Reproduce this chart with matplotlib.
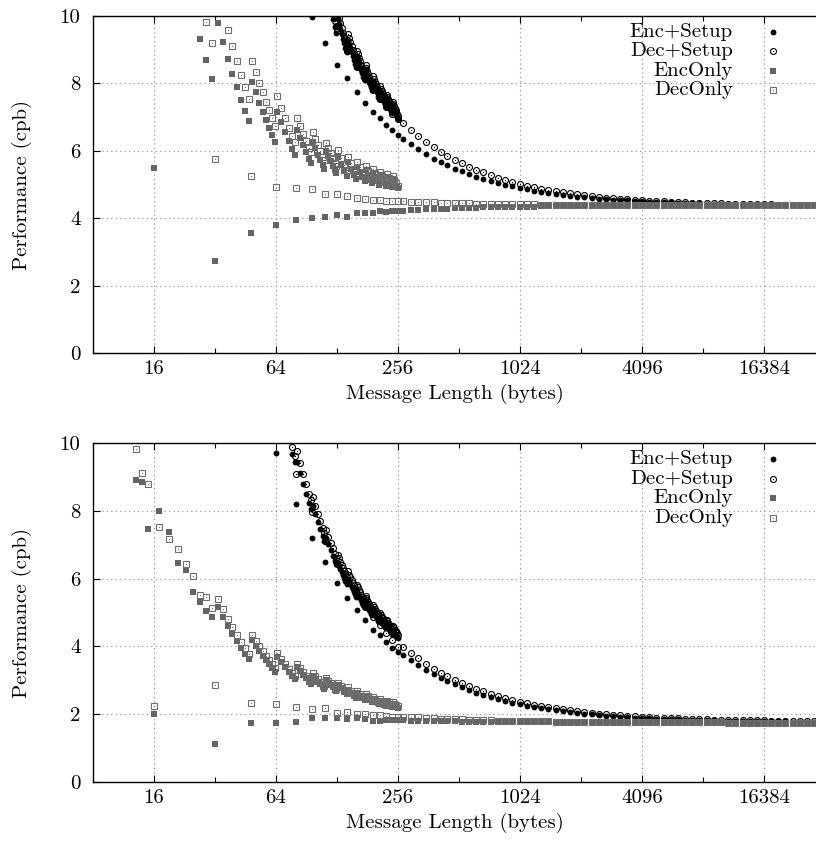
import numpy as np
import matplotlib
matplotlib.use('Agg')
import matplotlib.pyplot as plt
from matplotlib.ticker import FixedLocator, FixedFormatter, NullFormatter

plt.rcParams['font.family'] = 'cmr10'
plt.rcParams['mathtext.fontset'] = 'cm'
plt.rcParams['axes.formatter.use_mathtext'] = True

nan = float('nan')

# message lengths (bytes)
mult_len = [16, 32, 48, 64, 80, 96, 112, 128, 144, 160, 176, 192, 208, 224, 240, 256]
low_len = [13, 14, 15]
odd_len = [17, 19, 21, 23, 25, 27, 29, 31,
           33, 35, 37, 39, 41, 43, 45, 47,
           49, 51, 53, 55, 57, 59, 61, 63,
           65, 68, 71, 74, 77, 79,
           81, 84, 87, 90, 93, 95,
           97, 100, 103, 106, 109, 111,
           113, 116, 119, 122, 125, 127,
           129, 134, 139, 143, 145, 150, 155, 159,
           161, 166, 171, 175, 177, 182, 187, 191,
           193, 198, 203, 207, 209, 214, 219, 223,
           225, 230, 235, 239, 241, 246, 251, 255]
setup_mid_len = [65, 68, 71, 74, 77, 79,
                 81, 84, 87, 90, 93, 95,
                 97, 100, 103, 106, 109, 111,
                 113, 116, 119, 122, 125, 127]
setup_hi_len = [129, 131, 133, 135, 137, 139, 141, 143,
                145, 147, 149, 151, 153, 155, 157, 159,
                161, 163, 165, 167, 169, 171, 173, 175,
                177, 179, 181, 183, 185, 187, 189, 191,
                193, 195, 197, 199, 201, 203, 205, 207,
                209, 211, 213, 215, 217, 219, 221, 223,
                225, 227, 229, 231, 233, 235, 237, 239,
                241, 243, 245, 247, 249, 251, 253, 255]
tail_len = [272, 296, 320, 352, 384, 416, 448, 488, 528, 576,
            624, 672, 736, 800, 864, 936, 1024, 1104, 1200, 1304,
            1416, 1536, 1664, 1808, 1968, 2128, 2312, 2512, 2720, 2952,
            3200, 3472, 3776, 4096, 4448, 4824, 5232, 5680, 6160, 6688,
            7256, 7872, 8544, 9264, 10048, 10912, 11840, 12848, 13936, 15120,
            16384, 17776, 19296, 20928, 22704, 24640, 26736, 29008, 31472]

# ---------------- top panel (cpb) ----------------
top_encsetup_mult = [nan, nan, nan, nan, nan, 9.98, 9.20, 8.55, 8.16, 7.74, 7.42, 7.15, 6.97, 6.77, 6.62, 6.47]
top_decsetup_mult = [nan, nan, nan, nan, nan, nan, nan, 9.55, 8.97, 8.50, 8.12, 7.80, 7.53, 7.30, 7.10, 6.93]
top_enconly_mult = [5.49, 2.73, 3.56, 3.80, 3.95, 4.00, 4.04, 4.09, 4.04, 4.15, 4.15, 4.15, 4.21, 4.18, 4.21, 4.21]
top_deconly_mult = [nan, 5.76, 5.25, 4.93, 4.90, 4.87, 4.72, 4.72, 4.66, 4.60, 4.58, 4.55, 4.55, 4.52, 4.52, 4.51]

top_encsetup_mid = [nan, nan, nan, nan, nan, nan,
                    nan, nan, nan, nan, nan, nan,
                    nan, nan, nan, nan, nan, nan,
                    10.69, 10.41, 10.15, 9.90, 9.66, 9.51]
top_decsetup_mid = [nan, nan, nan, nan, nan, nan,
                    nan, nan, nan, nan, nan, nan,
                    nan, nan, nan, nan, nan, nan,
                    10.91, 10.63, 10.36, 10.11, 9.86, 9.71]
top_encsetup_hi = [9.91, 9.76, 9.61, 9.47, 9.33, 9.19, 9.06, 8.94,
                   9.30, 9.18, 9.05, 8.93, 8.82, 8.70, 8.59, 8.48,
                   8.81, 8.71, 8.60, 8.50, 8.40, 8.30, 8.20, 8.11,
                   8.42, 8.32, 8.23, 8.14, 8.05, 7.97, 7.88, 7.80,
                   8.08, 8.00, 7.92, 7.84, 7.76, 7.69, 7.61, 7.54,
                   7.80, 7.73, 7.65, 7.58, 7.51, 7.44, 7.38, 7.31,
                   7.56, 7.49, 7.43, 7.36, 7.30, 7.24, 7.18, 7.12,
                   7.35, 7.29, 7.23, 7.17, 7.11, 7.06, 7.00, 6.95]
top_decsetup_hi = [10.10, 9.95, 9.80, 9.65, 9.51, 9.37, 9.24, 9.11,
                   9.48, 9.35, 9.22, 9.10, 8.98, 8.87, 8.75, 8.64,
                   8.97, 8.86, 8.75, 8.65, 8.54, 8.44, 8.35, 8.25,
                   8.56, 8.46, 8.37, 8.28, 8.19, 8.10, 8.02, 7.93,
                   8.21, 8.13, 8.05, 7.97, 7.89, 7.81, 7.73, 7.66,
                   7.92, 7.84, 7.77, 7.70, 7.63, 7.56, 7.49, 7.42,
                   7.67, 7.60, 7.54, 7.47, 7.41, 7.35, 7.28, 7.22,
                   7.45, 7.39, 7.33, 7.27, 7.21, 7.16, 7.10, 7.04]
top_enconly_odd = [14.82, 13.26, 12.00, 10.96, 10.08, 9.33, 8.69, 8.13,
                   9.79, 9.23, 8.73, 8.28, 7.88, 7.51, 7.18, 6.87,
                   8.04, 7.73, 7.43, 7.16, 6.91, 6.68, 6.46, 6.25,
                   7.15, 6.84, 6.55, 6.28, 6.04, 5.89,
                   6.62, 6.38, 6.16, 5.96, 5.76, 5.64,
                   6.26, 6.07, 5.89, 5.73, 5.57, 5.47,
                   6.00, 5.84, 5.70, 5.56, 5.42, 5.34,
                   5.81, 5.59, 5.39, 5.24, 5.66, 5.47, 5.29, 5.16,
                   5.53, 5.37, 5.21, 5.09, 5.44, 5.29, 5.14, 5.04,
                   5.35, 5.22, 5.09, 4.99, 5.28, 5.16, 5.04, 4.95,
                   5.22, 5.11, 5.00, 4.92, 5.17, 5.07, 4.96, 4.89]
top_deconly_odd = [16.76, 15.00, 13.57, 12.39, 11.40, 10.56, 9.83, 9.19,
                   10.76, 10.14, 9.59, 9.10, 8.66, 8.26, 7.89, 7.55,
                   8.67, 8.33, 8.02, 7.73, 7.46, 7.20, 6.97, 6.75,
                   7.62, 7.28, 6.97, 6.69, 6.43, 6.27,
                   6.98, 6.73, 6.49, 6.28, 6.08, 5.95,
                   6.55, 6.35, 6.17, 5.99, 5.83, 5.72,
                   6.24, 6.08, 5.92, 5.78, 5.64, 5.55,
                   6.01, 5.78, 5.58, 5.42, 5.83, 5.63, 5.45, 5.31,
                   5.68, 5.51, 5.35, 5.23, 5.56, 5.41, 5.27, 5.16,
                   5.47, 5.33, 5.20, 5.10, 5.38, 5.26, 5.14, 5.04,
                   5.31, 5.20, 5.09, 5.00, 5.25, 5.14, 5.04, 4.96]

top_encsetup_tail = [6.35, 6.19, 6.05, 5.90, 5.77, 5.66, 5.57, 5.47, 5.39, 5.30,
                     5.23, 5.17, 5.10, 5.04, 4.99, 4.95, 4.90, 4.86, 4.82, 4.78,
                     4.75, 4.72, 4.69, 4.67, 4.64, 4.62, 4.60, 4.58, 4.57, 4.55,
                     4.54, 4.53, 4.51, 4.50, 4.49, 4.48, 4.47, 4.47, 4.46, 4.45,
                     4.44, 4.44, 4.43, 4.43, 4.42, 4.42, 4.42, 4.41, 4.41, 4.41,
                     4.40, 4.40, 4.40, 4.40, 4.39, 4.39, 4.39, 4.39, 4.39]
top_decsetup_tail = [6.82, 6.62, 6.45, 6.26, 6.10, 5.97, 5.86, 5.73, 5.63, 5.53,
                     5.44, 5.36, 5.27, 5.20, 5.14, 5.08, 5.02, 4.97, 4.93, 4.88,
                     4.84, 4.80, 4.77, 4.74, 4.71, 4.68, 4.66, 4.64, 4.61, 4.60,
                     4.58, 4.56, 4.55, 4.53, 4.52, 4.51, 4.50, 4.49, 4.48, 4.47,
                     4.46, 4.45, 4.45, 4.44, 4.44, 4.43, 4.43, 4.42, 4.42, 4.41,
                     4.41, 4.41, 4.40, 4.40, 4.40, 4.40, 4.39, 4.39, 4.39]
top_enconly_tail = [4.22, 4.23, 4.24, 4.26, 4.27, 4.28, 4.28, 4.29, 4.30, 4.30,
                    4.31, 4.32, 4.32, 4.33, 4.33, 4.33, 4.34, 4.34, 4.34, 4.35,
                    4.35, 4.35, 4.35, 4.36, 4.36, 4.36, 4.36, 4.36, 4.36, 4.37,
                    4.37, 4.37, 4.37, 4.37, 4.37, 4.37, 4.37, 4.38, 4.38, 4.38,
                    4.38, 4.38, 4.38, 4.38, 4.38, 4.38, 4.38, 4.38, 4.38, 4.38,
                    4.38, 4.38, 4.38, 4.38, 4.38, 4.38, 4.38, 4.38, 4.38]
top_deconly_tail = [4.50, 4.49, 4.48, 4.47, 4.47, 4.46, 4.45, 4.45, 4.44, 4.44,
                    4.43, 4.43, 4.42, 4.42, 4.42, 4.41, 4.41, 4.41, 4.41, 4.40,
                    4.40, 4.40, 4.40, 4.40, 4.39, 4.39, 4.39, 4.39, 4.39, 4.39,
                    4.39, 4.39, 4.39, 4.39, 4.39, 4.39, 4.39, 4.38, 4.38, 4.38,
                    4.38, 4.38, 4.38, 4.38, 4.38, 4.38, 4.38, 4.38, 4.38, 4.38,
                    4.38, 4.38, 4.38, 4.38, 4.38, 4.38, 4.38, 4.38, 4.38]

# ---------------- bottom panel (cpb) ----------------
bot_encsetup_mult = [nan, nan, nan, 9.70, 8.20, 7.20, 6.49, 5.87, 5.43, 5.07, 4.78, 4.48, 4.34, 4.13, 3.95, 3.83]
bot_decsetup_mult = [nan, nan, nan, nan, 9.10, 7.96, 7.10, 6.43, 5.90, 5.50, 5.15, 4.87, 4.62, 4.40, 4.18, 3.98]
bot_enconly_mult = [2.00, 1.12, 1.74, 1.74, 1.77, 1.88, 1.88, 1.88, 1.86, 1.88, 1.86, 1.80, 1.81, 1.83, 1.83, 1.83]
bot_deconly_mult = [2.24, 2.86, 2.33, 2.30, 2.21, 2.15, 2.18, 2.04, 2.07, 2.01, 2.01, 1.98, 1.98, 1.95, 1.93, 1.93]

bot_enconly_low = [8.90, 8.85, 7.46]
bot_deconly_low = [9.82, 9.11, 8.79]

bot_encsetup_mid = [11.46, 10.96, 10.49, 10.07, 9.68, 9.43,
                    9.44, 9.11, 8.79, 8.50, 8.23, 8.05,
                    8.14, 7.90, 7.67, 7.45, 7.25, 7.12,
                    7.21, 7.03, 6.85, 6.68, 6.52, 6.42]
bot_decsetup_mid = [11.69, 11.18, 10.70, 10.27, 9.87, 9.62,
                    9.75, 9.40, 9.08, 8.78, 8.49, 8.32,
                    8.40, 8.15, 7.91, 7.69, 7.48, 7.34,
                    7.43, 7.24, 7.06, 6.89, 6.72, 6.61]
bot_encsetup_hi = [6.47, 6.37, 6.28, 6.19, 6.10, 6.01, 5.92, 5.84,
                   6.00, 5.92, 5.84, 5.76, 5.69, 5.61, 5.54, 5.47,
                   5.62, 5.55, 5.49, 5.42, 5.36, 5.29, 5.23, 5.17,
                   5.31, 5.25, 5.19, 5.14, 5.08, 5.03, 4.97, 4.92,
                   5.05, 5.00, 4.95, 4.90, 4.85, 4.80, 4.76, 4.71,
                   4.83, 4.79, 4.74, 4.70, 4.65, 4.61, 4.57, 4.53,
                   4.64, 4.60, 4.56, 4.52, 4.49, 4.45, 4.41, 4.37,
                   4.48, 4.44, 4.41, 4.37, 4.34, 4.30, 4.27, 4.24]
bot_decsetup_hi = [6.71, 6.60, 6.50, 6.41, 6.31, 6.22, 6.14, 6.05,
                   6.21, 6.12, 6.04, 5.96, 5.88, 5.81, 5.73, 5.66,
                   5.81, 5.74, 5.67, 5.60, 5.53, 5.47, 5.41, 5.34,
                   5.48, 5.42, 5.36, 5.30, 5.24, 5.19, 5.13, 5.08,
                   5.21, 5.15, 5.10, 5.05, 5.00, 4.95, 4.90, 4.86,
                   4.98, 4.93, 4.88, 4.84, 4.79, 4.75, 4.71, 4.66,
                   4.78, 4.74, 4.69, 4.65, 4.61, 4.57, 4.54, 4.50,
                   4.61, 4.57, 4.53, 4.49, 4.46, 4.42, 4.39, 4.35]
bot_enconly_odd = [8.00, 7.37, 6.46, 6.25, 5.60, 5.31, 5.05, 4.87,
                   5.15, 4.86, 4.59, 4.36, 4.15, 3.95, 3.78, 3.62,
                   4.18, 4.02, 3.87, 3.73, 3.60, 3.47, 3.36, 3.25,
                   3.69, 3.53, 3.38, 3.24, 3.12, 3.04,
                   3.40, 3.27, 3.16, 3.06, 2.96, 2.89,
                   3.14, 3.05, 2.96, 2.88, 2.80, 2.75,
                   3.01, 2.93, 2.86, 2.79, 2.72, 2.68,
                   2.87, 2.76, 2.66, 2.59, 2.72, 2.63, 2.55, 2.48,
                   2.63, 2.55, 2.47, 2.42, 2.54, 2.47, 2.41, 2.36,
                   2.46, 2.40, 2.34, 2.29, 2.39, 2.34, 2.28, 2.24,
                   2.35, 2.30, 2.25, 2.21, 2.30, 2.26, 2.21, 2.18]
bot_deconly_odd = [7.52, 7.17, 6.87, 6.43, 6.08, 5.52, 5.45, 5.13,
                   5.39, 5.09, 4.81, 4.56, 4.34, 4.14, 3.96, 3.79,
                   4.33, 4.16, 4.00, 3.85, 3.72, 3.59, 3.48, 3.37,
                   3.80, 3.63, 3.48, 3.34, 3.21, 3.13,
                   3.48, 3.36, 3.24, 3.13, 3.03, 2.97,
                   3.23, 3.13, 3.04, 2.95, 2.87, 2.82,
                   3.07, 2.99, 2.92, 2.84, 2.78, 2.73,
                   2.93, 2.82, 2.72, 2.64, 2.79, 2.69, 2.61, 2.54,
                   2.68, 2.60, 2.53, 2.47, 2.60, 2.53, 2.46, 2.41,
                   2.52, 2.45, 2.39, 2.35, 2.45, 2.39, 2.34, 2.30,
                   2.40, 2.35, 2.30, 2.26, 2.36, 2.31, 2.26, 2.23]

bot_encsetup_tail = [3.76, 3.60, 3.46, 3.31, 3.18, 3.07, 2.98, 2.88, 2.79, 2.71,
                     2.63, 2.57, 2.50, 2.44, 2.39, 2.34, 2.29, 2.25, 2.21, 2.18,
                     2.15, 2.12, 2.09, 2.06, 2.04, 2.02, 2.00, 1.98, 1.96, 1.95,
                     1.93, 1.92, 1.90, 1.89, 1.88, 1.87, 1.86, 1.86, 1.85, 1.84,
                     1.84, 1.83, 1.82, 1.82, 1.81, 1.81, 1.81, 1.80, 1.80, 1.80,
                     1.79, 1.79, 1.79, 1.79, 1.78, 1.78, 1.78, 1.78, 1.78]
bot_decsetup_tail = [3.99, 3.81, 3.66, 3.49, 3.34, 3.22, 3.12, 3.01, 2.92, 2.82,
                     2.74, 2.67, 2.60, 2.53, 2.47, 2.42, 2.37, 2.32, 2.28, 2.24,
                     2.20, 2.17, 2.14, 2.11, 2.09, 2.06, 2.04, 2.02, 2.00, 1.98,
                     1.97, 1.95, 1.94, 1.93, 1.91, 1.90, 1.90, 1.89, 1.88, 1.87,
                     1.86, 1.86, 1.85, 1.84, 1.84, 1.83, 1.83, 1.83, 1.82, 1.82,
                     1.82, 1.81, 1.81, 1.81, 1.81, 1.80, 1.80, 1.80, 1.80]
bot_enconly_tail = [1.82, 1.81, 1.81, 1.80, 1.80, 1.79, 1.79, 1.79, 1.78, 1.78,
                    1.78, 1.78, 1.77, 1.77, 1.77, 1.77, 1.77, 1.77, 1.76, 1.76,
                    1.76, 1.76, 1.76, 1.76, 1.76, 1.76, 1.76, 1.76, 1.76, 1.76,
                    1.76, 1.76, 1.75, 1.75, 1.75, 1.75, 1.75, 1.75, 1.75, 1.75,
                    1.75, 1.75, 1.75, 1.75, 1.75, 1.75, 1.75, 1.75, 1.75, 1.75,
                    1.75, 1.75, 1.75, 1.75, 1.75, 1.75, 1.75, 1.75, 1.75]
bot_deconly_tail = [1.93, 1.92, 1.91, 1.89, 1.88, 1.87, 1.86, 1.85, 1.85, 1.84,
                    1.83, 1.82, 1.82, 1.81, 1.81, 1.80, 1.80, 1.80, 1.79, 1.79,
                    1.79, 1.78, 1.78, 1.78, 1.78, 1.77, 1.77, 1.77, 1.77, 1.77,
                    1.77, 1.76, 1.76, 1.76, 1.76, 1.76, 1.76, 1.76, 1.76, 1.76,
                    1.76, 1.76, 1.76, 1.76, 1.76, 1.75, 1.75, 1.75, 1.75, 1.75,
                    1.75, 1.75, 1.75, 1.75, 1.75, 1.75, 1.75, 1.75, 1.75]

series_names = ['Enc+Setup', 'Dec+Setup', 'EncOnly', 'DecOnly']
xtick_vals = [16, 64, 256, 1024, 4096, 16384]
xtick_labels = ['16', '64', '256', '1024', '4096', '16384']
xminor_vals = [32, 128, 512, 2048, 8192]
ytick_vals = [0, 2, 4, 6, 8, 10]

FS = 15
GRAY = '#646464'
styles = {
    'Enc+Setup': dict(marker='o', ms=4.2, mfc='black', mec='black', mew=0),
    'Dec+Setup': dict(marker='o', ms=4.3, mfc='none', mec='black', mew=0.8),
    'EncOnly': dict(marker='s', ms=3.8, mfc=GRAY, mec=GRAY, mew=0),
    'DecOnly': dict(marker='s', ms=4.1, mfc='none', mec='#6e6e6e', mew=0.8),
}


def draw_series(ax, name, parts):
    xs, ys = [], []
    for lens, vals in parts:
        xs += list(lens)
        ys += list(vals)
    st = styles[name]
    ax.plot(xs, ys, linestyle='none', zorder=3, **st)
    if st['mfc'] == 'none':
        # gnuplot open points have a small dot in the middle
        ax.plot(xs, ys, linestyle='none', marker='s', ms=0.8, mew=0,
                color=st['mec'], zorder=3)


def setup_axes(ax):
    ax.set_xscale('log', base=2)
    ax.set_xlim(8, 29600)
    ax.set_ylim(0, 10)
    ax.xaxis.set_major_locator(FixedLocator(xtick_vals))
    ax.xaxis.set_major_formatter(FixedFormatter(xtick_labels))
    ax.xaxis.set_minor_locator(FixedLocator(xminor_vals))
    ax.xaxis.set_minor_formatter(NullFormatter())
    ax.set_yticks(ytick_vals)
    ax.set_yticklabels([str(v) for v in ytick_vals])
    ax.tick_params(which='both', direction='in', top=True, right=False,
                   labelsize=FS, width=0.8)
    ax.tick_params(which='major', length=5)
    ax.tick_params(which='minor', length=3.5)
    ax.tick_params(axis='x', pad=5)
    ax.tick_params(axis='y', pad=9)
    ax.spines['right'].set_visible(False)
    for s in ['left', 'top', 'bottom']:
        ax.spines[s].set_linewidth(1.0)
    ax.grid(True, which='major', color='#888888', linestyle=(0, (1, 3)),
            linewidth=0.8)
    ax.set_axisbelow(True)
    ax.set_xlabel('Message Length (bytes)', fontsize=FS, labelpad=4)
    ax.set_ylabel('Performance (cpb)', fontsize=FS, labelpad=20)

    # gnuplot style key: right-justified text, sample to its right
    key_y = [0.953, 0.895, 0.837, 0.779]
    for name, y in zip(series_names, key_y):
        ax.text(0.885, y, name, transform=ax.transAxes, ha='right',
                va='center', fontsize=FS)
        st = styles[name]
        ax.plot([0.941], [y], transform=ax.transAxes, linestyle='none',
                clip_on=False, zorder=4, **st)
        if st['mfc'] == 'none':
            ax.plot([0.941], [y], transform=ax.transAxes, linestyle='none',
                    marker='s', ms=0.8, mew=0, color=st['mec'], clip_on=False)


fig = plt.figure(figsize=(8.16, 8.44), dpi=100)
ax_top = fig.add_axes([93 / 816, (844 - 353) / 844, 723 / 816, 337 / 844])
ax_bot = fig.add_axes([93 / 816, (844 - 782) / 844, 723 / 816, 339 / 844])

draw_series(ax_top, 'Enc+Setup', [(mult_len, top_encsetup_mult), (setup_mid_len, top_encsetup_mid),
                                  (setup_hi_len, top_encsetup_hi), (tail_len, top_encsetup_tail)])
draw_series(ax_top, 'Dec+Setup', [(mult_len, top_decsetup_mult), (setup_mid_len, top_decsetup_mid),
                                  (setup_hi_len, top_decsetup_hi), (tail_len, top_decsetup_tail)])
draw_series(ax_top, 'EncOnly', [(mult_len, top_enconly_mult), (odd_len, top_enconly_odd),
                                (tail_len, top_enconly_tail)])
draw_series(ax_top, 'DecOnly', [(mult_len, top_deconly_mult), (odd_len, top_deconly_odd),
                                (tail_len, top_deconly_tail)])

draw_series(ax_bot, 'Enc+Setup', [(mult_len, bot_encsetup_mult), (setup_mid_len, bot_encsetup_mid),
                                  (setup_hi_len, bot_encsetup_hi), (tail_len, bot_encsetup_tail)])
draw_series(ax_bot, 'Dec+Setup', [(mult_len, bot_decsetup_mult), (setup_mid_len, bot_decsetup_mid),
                                  (setup_hi_len, bot_decsetup_hi), (tail_len, bot_decsetup_tail)])
draw_series(ax_bot, 'EncOnly', [(low_len, bot_enconly_low), (mult_len, bot_enconly_mult),
                                (odd_len, bot_enconly_odd), (tail_len, bot_enconly_tail)])
draw_series(ax_bot, 'DecOnly', [(low_len, bot_deconly_low), (mult_len, bot_deconly_mult),
                                (odd_len, bot_deconly_odd), (tail_len, bot_deconly_tail)])

for ax in (ax_top, ax_bot):
    setup_axes(ax)

fig.savefig('out.png', dpi=100)
